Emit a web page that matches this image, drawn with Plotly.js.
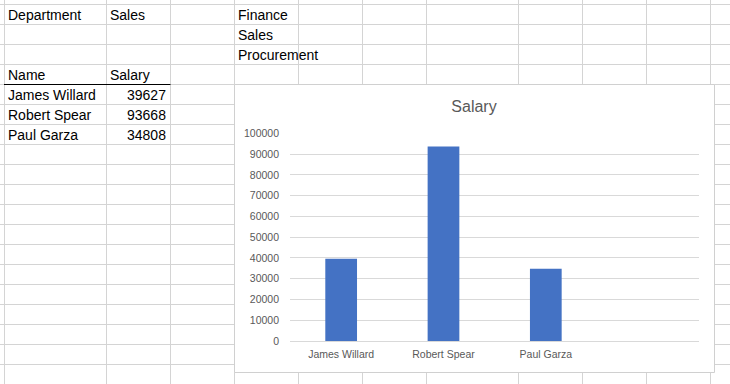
<!DOCTYPE html>
<html>
<head>
<meta charset="utf-8">
<script src="https://cdn.plot.ly/plotly-3.0.1.min.js"></script>
<style>html,body{margin:0;padding:0;background:#fff;}#chart{width:730px;height:384px;}</style>
</head>
<body>
<div id="chart"></div>
<script>
// ---- data ----
const headerPair = ['Department', 'Sales'];
const departments = ['Finance', 'Sales', 'Procurement'];
const tableHeader = ['Name', 'Salary'];
const names = ['James Willard', 'Robert Spear', 'Paul Garza'];
const salaries = [39627, 93668, 34808];
const chartTitle = 'Salary';
const yTicks = [0, 10000, 20000, 30000, 40000, 50000, 60000, 70000, 80000, 90000, 100000];

// ---- layout helpers (pixel -> paper) ----
const W = 730, H = 384;
const px = x => x / W;
const py = y => 1 - y / H;

const colLines = [4.5, 106.5, 170.5, 234.5, 298.5, 362.5, 426.5, 518.5, 582.5, 646.5, 710.5];
const rowLines = [];
for (let y = 4.5; y < H; y += 20) rowLines.push(y);

const gridColor = '#d4d4d4';
const shapes = [];
colLines.forEach(x => shapes.push({type:'line', xref:'paper', yref:'paper', x0:px(x), x1:px(x), y0:0, y1:1, line:{color:gridColor, width:1}, layer:'below'}));
rowLines.forEach(y => shapes.push({type:'line', xref:'paper', yref:'paper', x0:0, x1:1, y0:py(y), y1:py(y), line:{color:gridColor, width:1}, layer:'below'}));
// header underline
shapes.push({type:'line', xref:'paper', yref:'paper', x0:px(4), x1:px(170.5), y0:py(84.5), y1:py(84.5), line:{color:'#000000', width:1}, layer:'below'});
// chart area box
shapes.push({type:'rect', xref:'paper', yref:'paper', x0:px(234.5), x1:px(714.5), y0:py(372.5), y1:py(84.5), fillcolor:'#ffffff', line:{color:'#d0d0d0', width:1}, layer:'below'});

const cellFont = {family:'Liberation Sans, Arial, sans-serif', size:14, color:'#000000'};
const annotations = [];
function cell(text, x, y, align) {
  annotations.push({xref:'paper', yref:'paper', x:px(x), y:py(y), text:String(text), showarrow:false,
    xanchor: align === 'right' ? 'right' : 'left', yanchor:'middle', font:cellFont});
}
cell(headerPair[0], 6, 15);
cell(headerPair[1], 108, 15);
departments.forEach((d, i) => cell(d, 236, 15 + 20 * i));
cell(tableHeader[0], 6, 75);
cell(tableHeader[1], 108, 75);
names.forEach((n, i) => cell(n, 6, 95 + 20 * i));
salaries.forEach((s, i) => cell(s, 168, 95 + 20 * i, 'right'));

const axisFont = {family:'Liberation Sans, Arial, sans-serif', size:10.5, color:'#595959'};

const data = [{
  type:'bar',
  x: names,
  y: salaries,
  marker:{color:'#4472C4'},
  width:0.31,
  hoverinfo:'skip'
}];

const layout = {
  width: W, height: H,
  margin:{l:0, r:0, t:0, b:0, pad:0},
  paper_bgcolor:'#ffffff',
  plot_bgcolor:'rgba(0,0,0,0)',
  showlegend:false,
  title:{text:chartTitle, x:px(474), xanchor:'center', xref:'paper', y:py(106), yanchor:'middle', yref:'paper',
    font:{family:'Liberation Sans, Arial, sans-serif', size:16, color:'#595959'}},
  xaxis:{
    domain:[px(290), px(699.3)],
    type:'category',
    range:[-0.5, 3.5],
    showgrid:false, zeroline:false, showline:false,
    ticks:'', ticklabelstandoff:5,
    tickfont:axisFont,
    fixedrange:true
  },
  yaxis:{
    domain:[py(341), py(133.3)],
    range:[0, 100000],
    tickvals:yTicks,
    ticktext:yTicks.map(String),
    showgrid:true, gridcolor:'#d9d9d9', gridwidth:1,
    zeroline:true, zerolinecolor:'#d9d9d9', zerolinewidth:1,
    showline:false, ticks:'', ticklabelstandoff:10,
    tickfont:axisFont,
    fixedrange:true
  },
  shapes: shapes,
  annotations: annotations
};

Plotly.newPlot('chart', data, layout, {staticPlot:true, displayModeBar:false});
</script>
</body>
</html>
